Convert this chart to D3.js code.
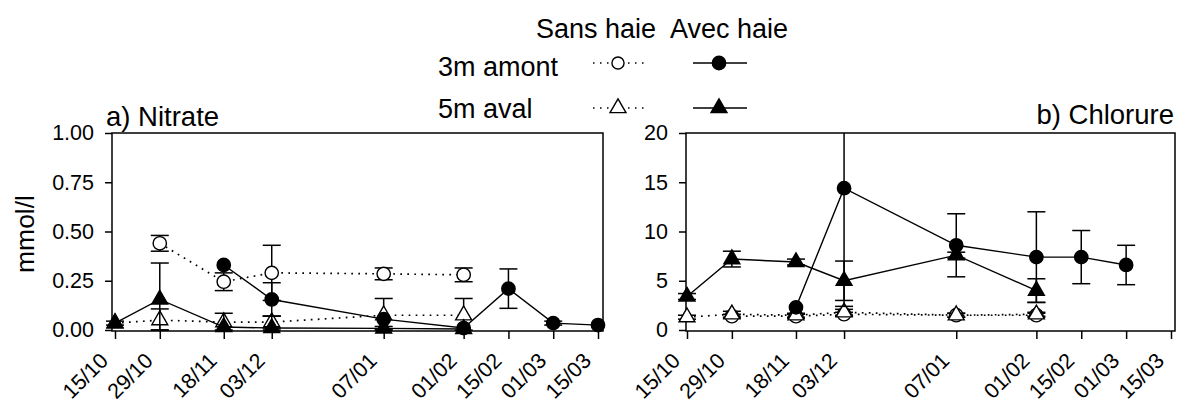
<!DOCTYPE html>
<html>
<head>
<meta charset="utf-8">
<script src="https://cdn.jsdelivr.net/npm/d3@7"></script>
<style>
  body { margin: 0; background: #fff; }
  svg { display: block; font-family: "Liberation Sans", Arial, sans-serif; }
</style>
</head>
<body>
<div id="chart"></div>
<script>
// sampling dates (dd/mm), winter 2002-2003
const dateLabels = ["15/10", "29/10", "18/11", "03/12", "07/01", "01/02", "15/02", "01/03", "15/03"];
const dateValues = ["2002-10-15", "2002-10-29", "2002-11-18", "2002-12-03", "2003-01-07", "2003-02-01", "2003-02-15", "2003-03-01", "2003-03-15"];

// a) Nitrate (mmol/l)
const nitSansAmont    = [null, 0.44, 0.245, 0.29, 0.285, 0.28, null, null, null];
const nitSansAmontErr = [null, 0.04, 0.045, 0.14, 0.03, 0.035, null, null, null];
const nitSansAval     = [0.035, 0.05, 0.04, 0.04, 0.075, 0.075, null, null, null];
const nitSansAvalErr  = [null, 0.057, null, 0.03, 0.085, 0.085, null, null, null];
const nitAvecAmont    = [null, null, 0.33, 0.155, 0.055, 0.01, 0.21, 0.035, 0.025];
const nitAvecAmontErr = [null, null, null, 0.085, null, null, 0.10, 0.01, null];
const nitAvecAval     = [0.035, 0.155, 0.015, 0.01, 0.008, 0.005, null, null, null];
const nitAvecAvalErr  = [0.01, 0.185, 0.07, 0.06, 0.01, null, null, null, null];

// b) Chlorure (mmol/l)
const chlSansAmont    = [null, 1.4, 1.4, 1.6, 1.5, 1.5, null, null, null];
const chlSansAmontErr = [null, 0.2, 0.2, 0.2, 0.2, 0.2, null, null, null];
const chlSansAval     = [1.3, 1.6, 1.5, 1.8, 1.5, 1.6, null, null, null];
const chlSansAvalErr  = [0.2, 0.3, 0.2, 0.3, 0.2, 0.2, null, null, null];
const chlAvecAmont    = [null, null, 2.3, 14.4, 8.6, 7.4, 7.4, 6.6, null];
const chlAvecAmontErr = [null, null, null, 12, 3.2, 4.6, 2.7, 2.0, null];
const chlAvecAval     = [3.4, 7.2, 6.9, 5.0, 7.6, 4.0, null, null, null];
const chlAvecAvalErr  = [0.3, 0.8, 0.3, 2.0, 0.3, 1.2, null, null, null];

const nitTicks = [0, 0.25, 0.5, 0.75, 1];
const chlTicks = [0, 5, 10, 15, 20];

function createChart() {
    const width = 1177, height = 403;
    const parse = d3.timeParse("%Y-%m-%d");
    const dates = dateValues.map(parse);

    const svg = d3.select("#chart").append("svg")
        .attr("width", width)
        .attr("height", height);

    function toPoints(vals, errs) {
        return vals.map((v, i) => ({ date: dates[i], value: v, err: errs[i] }))
            .filter(d => d.value !== null);
    }

    function drawPanel(opts) {
        const x = d3.scaleTime()
            .domain([dates[0], dates[dates.length - 1]])
            .range(opts.xRange);
        const y = d3.scaleLinear()
            .domain(opts.yDomain)
            .range([330, 133]);

        const g = svg.append("g");

        // frame
        g.append("rect")
            .attr("x", opts.frame[0])
            .attr("y", 133)
            .attr("width", opts.frame[1] - opts.frame[0])
            .attr("height", 331 - 133)
            .attr("fill", "none")
            .attr("stroke", "#000")
            .attr("stroke-width", 1.5);

        // x axis
        const xAxis = g.append("g")
            .attr("transform", "translate(0,331)")
            .call(d3.axisBottom(x)
                .tickValues(dates)
                .tickFormat((d, i) => dateLabels[i])
                .tickSize(8)
                .tickSizeOuter(0));
        xAxis.select(".domain").remove();
        xAxis.selectAll("line").attr("stroke-width", 1.5);
        xAxis.selectAll("text")
            .attr("x", 0).attr("y", 0).attr("dy", 0)
            .attr("text-anchor", "end")
            .attr("transform", "translate(-6,31) rotate(-45)")
            .style("font-size", "21.5px")
            .attr("fill", "#000");

        // y axis
        const yAxis = g.append("g")
            .attr("transform", `translate(${opts.frame[0]},0)`)
            .call(d3.axisLeft(y)
                .tickValues(opts.yTicks)
                .tickFormat(opts.yFormat)
                .tickSize(7)
                .tickPadding(11)
                .tickSizeOuter(0));
        yAxis.select(".domain").remove();
        yAxis.selectAll("line").attr("stroke-width", 1.5);
        yAxis.selectAll("text")
            .style("font-size", "21.5px")
            .attr("fill", "#000");

        const yMax = opts.yDomain[1];
        const line = d3.line()
            .x(d => x(d.date))
            .y(d => y(d.value));

        opts.series.forEach(s => {
            const pts = toPoints(s.values, s.errs);

            // error bars (clamped to the plot area)
            const eb = g.append("g").selectAll("g")
                .data(pts.filter(d => d.err !== null))
                .enter().append("g");
            eb.append("line")
                .attr("x1", d => x(d.date)).attr("x2", d => x(d.date))
                .attr("y1", d => y(Math.min(d.value + d.err, yMax)))
                .attr("y2", d => y(Math.max(d.value - d.err, 0)))
                .attr("stroke", "#000").attr("stroke-width", 1.5);
            eb.filter(d => d.value + d.err <= yMax).append("line")
                .attr("x1", d => x(d.date) - 9).attr("x2", d => x(d.date) + 9)
                .attr("y1", d => y(d.value + d.err)).attr("y2", d => y(d.value + d.err))
                .attr("stroke", "#000").attr("stroke-width", 1.5);
            eb.append("line")
                .attr("x1", d => x(d.date) - 9).attr("x2", d => x(d.date) + 9)
                .attr("y1", d => y(Math.max(d.value - d.err, 0))).attr("y2", d => y(Math.max(d.value - d.err, 0)))
                .attr("stroke", "#000").attr("stroke-width", 1.5);

            g.append("path")
                .datum(pts)
                .attr("d", line)
                .attr("fill", "none")
                .attr("stroke", "#000")
                .attr("stroke-width", s.dotted ? 1.7 : 1.4)
                .attr("stroke-dasharray", s.dotted ? "1.7,5.3" : null);

            g.append("g").selectAll("path")
                .data(pts)
                .enter().append("path")
                .attr("transform", d => `translate(${x(d.date)},${y(d.value)})`)
                .attr("d", d3.symbol().type(s.shape).size(s.shape === d3.symbolCircle ? 140 : 110))
                .attr("fill", s.filled ? "#000" : "#fff")
                .attr("stroke", "#000")
                .attr("stroke-width", 1.4);
        });
    }

    drawPanel({
        xRange: [115, 598],
        frame: [112, 603],
        yDomain: [0, 1],
        yTicks: nitTicks,
        yFormat: d3.format(".2f"),
        series: [
            { values: nitSansAval, errs: nitSansAvalErr, shape: d3.symbolTriangle, filled: false, dotted: true },
            { values: nitSansAmont, errs: nitSansAmontErr, shape: d3.symbolCircle, filled: false, dotted: true },
            { values: nitAvecAval, errs: nitAvecAvalErr, shape: d3.symbolTriangle, filled: true, dotted: false },
            { values: nitAvecAmont, errs: nitAvecAmontErr, shape: d3.symbolCircle, filled: true, dotted: false }
        ]
    });

    drawPanel({
        xRange: [687, 1171],
        frame: [686, 1175],
        yDomain: [0, 20],
        yTicks: chlTicks,
        yFormat: d3.format("d"),
        series: [
            { values: chlSansAmont, errs: chlSansAmontErr, shape: d3.symbolCircle, filled: false, dotted: true },
            { values: chlSansAval, errs: chlSansAvalErr, shape: d3.symbolTriangle, filled: false, dotted: true },
            { values: chlAvecAval, errs: chlAvecAvalErr, shape: d3.symbolTriangle, filled: true, dotted: false },
            { values: chlAvecAmont, errs: chlAvecAmontErr, shape: d3.symbolCircle, filled: true, dotted: false }
        ]
    });

    // panel titles
    svg.append("text")
        .attr("x", 106).attr("y", 126)
        .style("font-size", "27.5px")
        .text("a) Nitrate");
    svg.append("text")
        .attr("x", 1174).attr("y", 124)
        .attr("text-anchor", "end")
        .style("font-size", "27.5px")
        .text("b) Chlorure");

    // y label
    svg.append("text")
        .attr("transform", "translate(34,234) rotate(-90)")
        .attr("text-anchor", "middle")
        .style("font-size", "26.5px")
        .text("mmol/l");

    // legend
    const legend = svg.append("g");
    legend.append("text").attr("x", 536).attr("y", 38)
        .style("font-size", "27px").text("Sans haie");
    legend.append("text").attr("x", 670).attr("y", 38)
        .style("font-size", "27px").text("Avec haie");
    legend.append("text").attr("x", 438).attr("y", 76)
        .style("font-size", "27px").text("3m amont");
    legend.append("text").attr("x", 438).attr("y", 118)
        .style("font-size", "27px").text("5m aval");

    const rows = [
        { y: 63, shape: d3.symbolCircle },
        { y: 108, shape: d3.symbolTriangle }
    ];
    rows.forEach(r => {
        legend.append("line")
            .attr("x1", 593).attr("x2", 647).attr("y1", r.y).attr("y2", r.y)
            .attr("stroke", "#000").attr("stroke-width", 1.5)
            .attr("stroke-dasharray", "1.5,5.5");
        legend.append("path")
            .attr("transform", `translate(618,${r.y})`)
            .attr("d", d3.symbol().type(r.shape).size(r.shape === d3.symbolCircle ? 115 : 110))
            .attr("fill", "#fff").attr("stroke", "#000").attr("stroke-width", 1.4);
        legend.append("line")
            .attr("x1", 693).attr("x2", 747).attr("y1", r.y).attr("y2", r.y)
            .attr("stroke", "#000").attr("stroke-width", 1.5);
        legend.append("path")
            .attr("transform", `translate(719,${r.y})`)
            .attr("d", d3.symbol().type(r.shape).size(r.shape === d3.symbolCircle ? 140 : 110))
            .attr("fill", "#000").attr("stroke", "#000").attr("stroke-width", 1.4);
    });
}

createChart();
</script>
</body>
</html>
